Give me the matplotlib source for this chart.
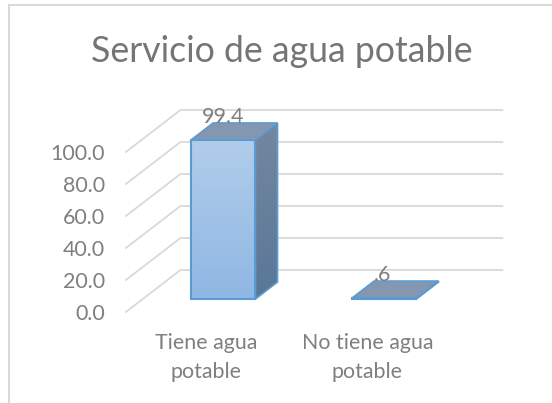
import numpy as np
import matplotlib
matplotlib.use("Agg")
import matplotlib.pyplot as plt
from matplotlib.patches import Polygon, Rectangle
from matplotlib.colors import LinearSegmentedColormap

categories = ["Tiene agua\npotable", "No tiene agua\npotable"]
values = [99.4, 0.6]
value_labels = ["99.4", ".6"]
y_ticks = [0, 20, 40, 60, 80, 100]
title = "Servicio de agua potable"

W, H = 552, 403
PX_CAT, PX_VAL = 161.0, 1.6
DX, DV = 54.5 / PX_CAT, 42 / PX_VAL   # floor depth in data units
D0, D1 = 0.31, 0.714
BW = 0.2

plt.rcParams["font.family"] = ["Lato", "DejaVu Sans"]
fig = plt.figure(figsize=(W / 100, H / 100), dpi=100)
ax = fig.add_axes([0, 0, 1, 1])
ax.axis("off")

def pt(x, v, d):
    return (x + d * DX, v + d * DV)

GRID = "#D9D9D9"
TXT = "#7F7F7F"
FS = 15.4
for t in y_ticks:
    p0, p1, p2 = pt(-0.5, t, 0), pt(-0.5, t, 1), pt(1.5, t, 1)
    ax.plot([p0[0], p1[0], p2[0]], [p0[1], p1[1], p2[1]], color=GRID, lw=1.3, zorder=1)
    ax.text(p0[0] - 21 / PX_CAT, t - 2.5 / PX_VAL, f"{t:.1f}", ha="right", va="center",
            fontsize=FS, color=TXT)

EDGE = "#5B9BD5"
front_cm = LinearSegmentedColormap.from_list("f", ["#B1CDEB", "#8FB7E3"])
side_cm = LinearSegmentedColormap.from_list("s", ["#74879F", "#5A7797"])
grad = np.linspace(0, 1, 128)[:, None]

for i, v in enumerate(values):
    l, r = i - BW, i + BW
    fl = pt(l, 0, D0); fr = pt(r, 0, D0)
    blr = pt(r, 0, D1)
    ftl = pt(l, v, D0); ftr = pt(r, v, D0)
    btl = pt(l, v, D1); btr = pt(r, v, D1)
    ax.add_patch(Polygon([fr, blr, btr, ftr], closed=True, fc="none", ec=EDGE, lw=1.2, zorder=4))
    im = ax.imshow(grad, cmap=side_cm, aspect="auto", zorder=3,
                   extent=(fr[0], blr[0], fr[1], btr[1]))
    im.set_clip_path(Polygon([fr, blr, btr, ftr], closed=True, transform=ax.transData))
    ax.add_patch(Polygon([ftl, ftr, btr, btl], closed=True, fc="#8497B0", ec=EDGE, lw=1.2, zorder=4))
    ax.imshow(grad, cmap=front_cm, aspect="auto", zorder=3,
              extent=(fl[0], fr[0], fl[1], ftl[1]))
    ax.add_patch(Rectangle(fl, fr[0] - fl[0], v, fc="none", ec=EDGE, lw=1.5, zorder=5))
    ax.text(pt(i, v, D0)[0] - 1.5 * i / PX_CAT, btl[1], value_labels[i], ha="center",
            va="baseline", fontsize=FS, color=TXT, zorder=6)
    ax.text(i, -(333 - 312) / PX_VAL, categories[i], ha="center", va="top",
            fontsize=FS, color=TXT, linespacing=1.55, zorder=6)

ax.set_xlim(-206.4 / PX_CAT, (W - 206.4) / PX_CAT)
ax.set_ylim(-(H - 312) / PX_VAL, 312 / PX_VAL)

fig.text(282 / W, 1 - 51 / H, title, ha="center", va="center", fontsize=25.7, color="#757575")

fr_c = "#D9D9D9"
fig.add_artist(plt.Line2D([9 / W, 9 / W], [0, 1 - 5 / H], color=fr_c, lw=1.5))
fig.add_artist(plt.Line2D([9 / W, 1], [1 - 5 / H, 1 - 5 / H], color=fr_c, lw=1.5))

fig.savefig("out.png", dpi=100)
